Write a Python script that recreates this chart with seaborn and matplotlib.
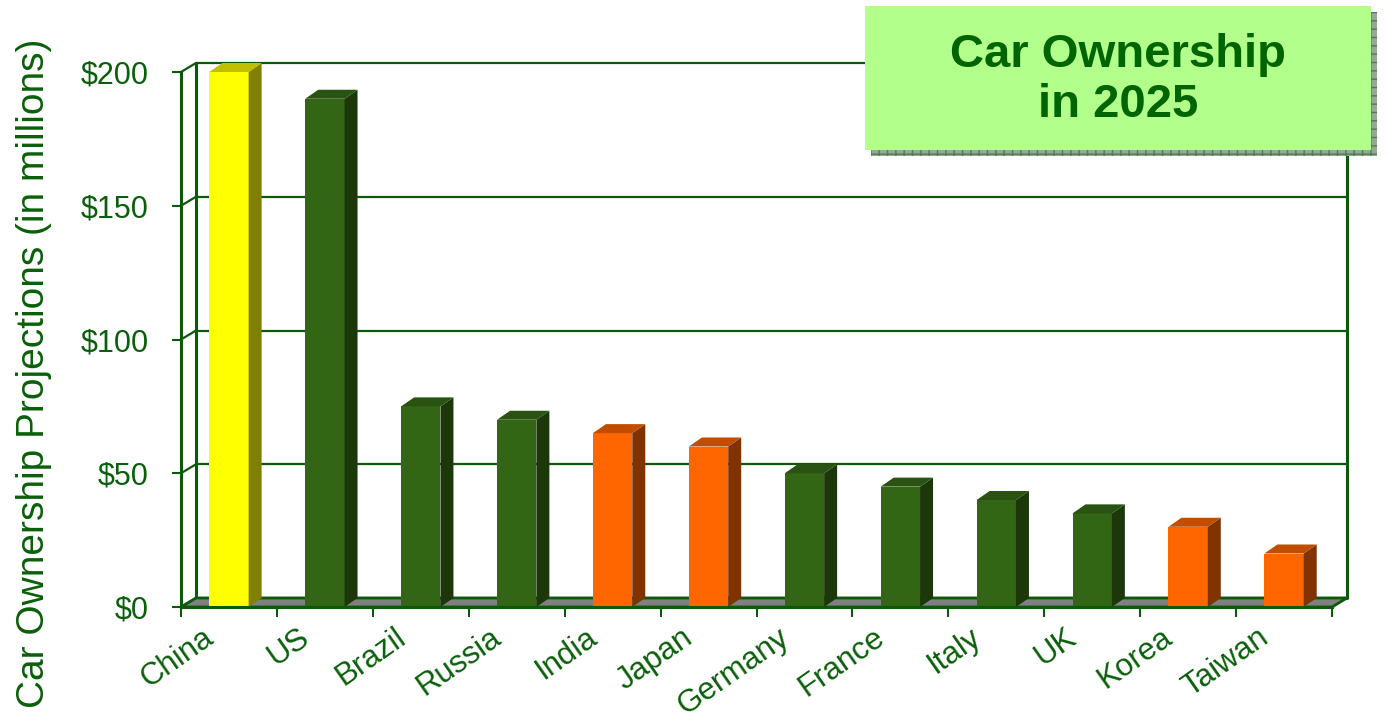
import matplotlib
matplotlib.use("Agg")
import matplotlib.pyplot as plt
from matplotlib.patches import Rectangle, Polygon
import matplotlib.transforms as mtransforms
import seaborn as sns
import pandas as pd

# ---- data ----
countries = ["China", "US", "Brazil", "Russia", "India", "Japan", "Germany",
             "France", "Italy", "UK", "Korea", "Taiwan"]
values = [200, 190, 75, 70, 65, 60, 50, 45, 40, 35, 30, 20]
groups = ["china", "green", "green", "green", "orange", "orange", "green",
          "green", "green", "green", "orange", "orange"]
yticks = [0, 50, 100, 150, 200]
ytick_labels = ["$0", "$50", "$100", "$150", "$200"]
title_text = "Car Ownership\nin 2025"
ylabel_text = "Car Ownership Projections (in millions)"

front_colors = {"china": "#ffff00", "green": "#336614", "orange": "#ff6600"}
top_colors = {"china": "#c0c000", "green": "#2a5212", "orange": "#c04d00"}
side_colors = {"china": "#808000", "green": "#1c380b", "orange": "#803300"}

DG = "#0a5a0a"   # dark green axis colour
TXT = "#0a5f0a"

sns.set_style("white")
plt.rcParams["font.family"] = ["Liberation Sans", "DejaVu Sans"]

W, H = 1388, 723
fig = plt.figure(figsize=(W / 100, H / 100), dpi=100)
ax = fig.add_axes([181 / W, 1 - 607 / H, (1332 - 181) / W, (607 - 72) / H])

df = pd.DataFrame({"country": countries, "value": values, "group": groups})
sns.barplot(data=df, x="country", y="value", hue="group", palette=front_colors,
            dodge=False, width=0.41, legend=False, ax=ax, saturation=1)

ax.set_xlim(-0.5, len(countries) - 0.5)
ax.set_ylim(0, 200)

# pixel -> data conversions for the 3D offsets
px_x = (len(countries)) / (1332 - 181)
px_y = 200 / (607 - 72)
dxb, dyb = 13 * px_x, 9 * px_y     # bar depth
dxw, dyw = 15 * px_x, 9 * px_y     # wall depth

x0a, x1a = -0.5, len(countries) - 0.5

# floor
ax.add_patch(Polygon([(x0a, 0), (x1a, 0), (x1a + dxw, dyw), (x0a + dxw, dyw)],
                     closed=True, facecolor="#808080", edgecolor=DG, lw=2,
                     zorder=1, clip_on=False))
# back wall gridlines + left wall diagonals
for yv in yticks:
    ax.plot([x0a + dxw, x1a + dxw], [yv + dyw, yv + dyw], color=DG, lw=1.6,
            zorder=0.5, clip_on=False, solid_capstyle="butt")
    ax.plot([x0a, x0a + dxw], [yv, yv + dyw], color=DG, lw=1.6,
            zorder=0.6, clip_on=False)
ax.plot([x0a + dxw, x0a + dxw], [dyw, 200 + dyw], color=DG, lw=2.2,
        zorder=0.6, clip_on=False)
ax.plot([x1a + dxw, x1a + dxw], [dyw, 200 + dyw], color=DG, lw=2.2,
        zorder=0.6, clip_on=False)

# 3D sides and tops derived from seaborn's bars
for p in list(ax.patches):
    if not isinstance(p, Rectangle):
        continue
    bx, bw, bh = p.get_x(), p.get_width(), p.get_height()
    if bw <= 0 or bh <= 0:
        continue
    idx = int(round(bx + bw / 2))
    g = groups[idx]
    p.set_zorder(3)
    p.set_edgecolor("none")
    x1 = bx + bw
    ax.add_patch(Polygon([(x1, 0), (x1 + dxb, dyb), (x1 + dxb, bh + dyb), (x1, bh)],
                         closed=True, facecolor=side_colors[g], edgecolor="none",
                         zorder=3, clip_on=False))
    ax.add_patch(Polygon([(bx, bh), (bx + dxb, bh + dyb), (x1 + dxb, bh + dyb), (x1, bh)],
                         closed=True, facecolor=top_colors[g], edgecolor="none",
                         zorder=3, clip_on=False))

# spines
for s in ["top", "right"]:
    ax.spines[s].set_visible(False)
for s in ["left", "bottom"]:
    ax.spines[s].set_color(DG)
    ax.spines[s].set_linewidth(2.2)
    ax.spines[s].set_zorder(4)

# y axis
ax.set_yticks(yticks)
ax.set_yticklabels(ytick_labels)
ax.tick_params(axis="y", direction="out", length=6.5, width=1.5, color=DG,
               labelsize=22, labelcolor=TXT, pad=17, left=True)
ax.set_ylabel(ylabel_text, fontsize=28, color=TXT)
ax.yaxis.set_label_coords(-0.112, 0.437)

# x axis
ax.set_xlabel("")
ax.set_xticks(range(len(countries)))
ax.set_xticklabels(countries, rotation=35, ha="right", rotation_mode="anchor")
ax.set_xticks([i - 0.5 for i in range(len(countries) + 1)], minor=True)
ax.tick_params(axis="x", which="major", length=0, labelsize=22.5, labelcolor=TXT, pad=11)
ax.tick_params(axis="x", which="minor", direction="out", length=7, width=1.5,
               color=DG, bottom=True)
offset = mtransforms.ScaledTranslation(-27 / 100, 0, fig.dpi_scale_trans)
for lab in ax.get_xticklabels():
    lab.set_transform(lab.get_transform() + offset)

# title box with shadow
bx0, by0, bx1, by1 = 865, 6, 1371, 150
fig.add_artist(Rectangle(((bx0 + 6) / W, 1 - (by1 + 6) / H), (bx1 - bx0) / W, (by1 - by0) / H,
                         transform=fig.transFigure, facecolor="#98a898",
                         edgecolor="#4f7f4f", hatch="++", lw=0, zorder=5))
fig.add_artist(Rectangle((bx0 / W, 1 - by1 / H), (bx1 - bx0) / W, (by1 - by0) / H,
                         transform=fig.transFigure, facecolor="#b3ff8c",
                         edgecolor="none", zorder=6))
fig.text((bx0 + bx1) / 2 / W, 1 - 80 / H, title_text, ha="center", va="center",
         fontsize=34, fontweight="bold", color="#006400", linespacing=1.2, zorder=7)

fig.savefig("out.png", dpi=100)
